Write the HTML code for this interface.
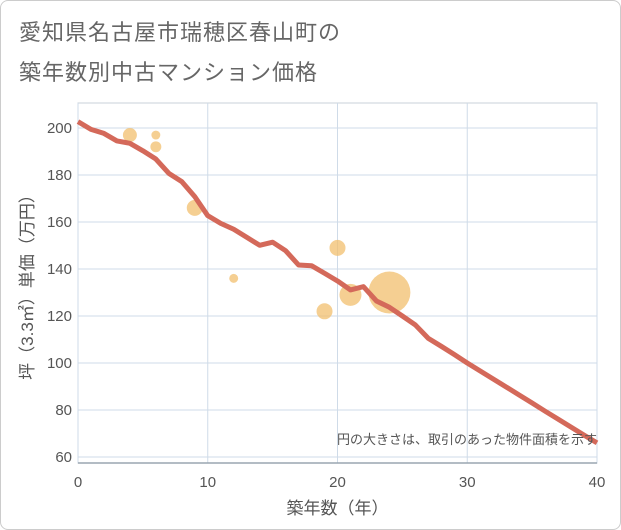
<!DOCTYPE html>
<html><head><meta charset="utf-8"><style>
body{margin:0;background:#fff;}
#wrap{position:relative;width:619px;height:528px;border:1px solid #ccc;border-radius:8px;background:#fff;overflow:hidden;font-family:"Liberation Sans","Noto Sans CJK JP",sans-serif;}
.t{position:absolute;left:18px;font-size:22px;color:#666;letter-spacing:1px;}
</style></head><body>
<div id="wrap">
<div class="t" style="top:14px">愛知県名古屋市瑞穂区春山町の</div>
<div class="t" style="top:54px">築年数別中古マンション価格</div>
<svg id="c" width="621" height="530" style="position:absolute;left:-1px;top:-1px"></svg>
</div>
<script>
const years=[0,1,2,3,4,5,6,7,8,9,10,11,12,13,14,15,16,17,18,19,20,21,22,23,24,25,26,27,28,29,30,31,32,33,34,35,36,37,38,39,40];
const prices=[202.7,199.4,197.7,194.5,193.5,190.3,186.8,180.7,177.2,170.8,162.7,159.4,156.9,153.5,150.1,151.4,147.8,141.7,141.4,138.2,134.9,131.1,132.5,126.4,123.7,120,116.2,110.5,107.1,103.6,100,96.6,93.2,89.8,86.4,83,79.5,76.1,72.7,69.3,66];
const bubbleX=[4,6,6,9,12,19,20,21,24];
const bubbleY=[197,197,192,166,136,122,149,129,130];
const bubbleArea=[49,20,30,64,20,64,64,121,441];
const xTicks=[0,10,20,30,40];
const yTicks=[60,80,100,120,140,160,180,200];
const NS="http://www.w3.org/2000/svg";
const svg=document.getElementById('c');
const L=78,R=597,T=103,B=463;
const xs=v=>L+(v-0)/40*(R-L);
const ys=v=>457-(v-60)/140*(457-128);
function mk(t,a){const e=document.createElementNS(NS,t);for(const k in a)e.setAttribute(k,a[k]);svg.appendChild(e);return e;}
const bg=mk('rect',{x:L,y:T,width:R-L,height:B-T,fill:'#fff',stroke:'#c8d0d8'});


xTicks.forEach(v=>{
 const g=mk('line',{x1:xs(v),x2:xs(v),y1:T,y2:B,stroke:'#cfdbe8'});
 
 
 const t=mk('text',{x:xs(v),y:487,'text-anchor':'middle','font-size':15,fill:'#555'});
 t.textContent=v;
 
 
});
yTicks.forEach(v=>{
 const g=mk('line',{x1:L,x2:R,y1:ys(v),y2:ys(v),stroke:'#cfdbe8'});
 
 
 const t=mk('text',{x:72,y:ys(v)+5,'text-anchor':'end','font-size':15,fill:'#555'});
 t.textContent=v;
 
 
});
const ax=mk('line',{x1:L,x2:R,y1:B,y2:B,stroke:'#9aa5b0','stroke-width':1.5});


bubbleX.forEach((x,i)=>{
 const c=mk('circle',{cx:xs(x),cy:ys(bubbleY[i]),r:Math.sqrt(bubbleArea[i]),fill:'#f2bf6e','fill-opacity':0.75});
 
 
});
const p=mk('polyline',{points:years.map((y,i)=>xs(y)+','+ys(prices[i])).join(' '),fill:'none',stroke:'#d4695a','stroke-width':5,'stroke-linejoin':'round'});


const n=mk('text',{x:597,y:444,'text-anchor':'end','font-size':13,fill:'#555'});
n.textContent='円の大きさは、取引のあった物件面積を示す';


const xt=mk('text',{x:(L+R)/2,y:514,'text-anchor':'middle','font-size':17,fill:'#555'});
xt.textContent='築年数（年）';


const yt=mk('text',{x:0,y:0,'text-anchor':'middle','font-size':17,fill:'#555',transform:'translate(33,283) rotate(-90)'});
yt.textContent='坪（3.3㎡）単価（万円）';


</script>
</body></html>
